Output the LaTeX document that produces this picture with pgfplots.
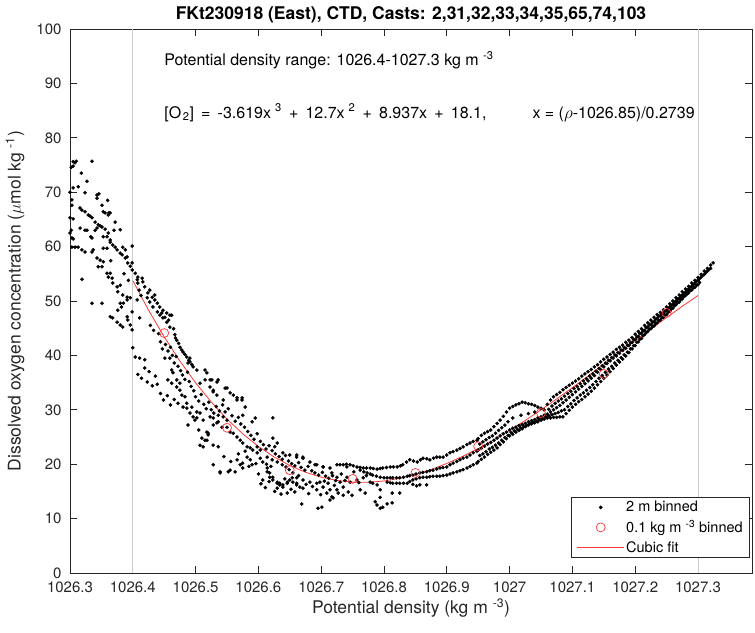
\documentclass[border=0pt]{standalone}
\usepackage{fontspec}
\setmainfont{TeX Gyre Heros}
\usepackage{pgfplots}
\pgfplotsset{compat=1.18}
\pgfplotsset{legend image code/.code={\draw[mark repeat=2,mark phase=2,#1] plot coordinates {(0pt,0pt) (24pt,0pt) (47pt,0pt)};}}
\definecolor{axgray}{RGB}{38,38,38}
\definecolor{vgray}{RGB}{205,205,205}
\definecolor{fitred}{RGB}{255,55,55}
% x values are potential density minus 1000 (sigma-theta), labels show full density
\begin{document}
\begin{tikzpicture}
\begin{axis}[
  name=ax,
  scale only axis,
  width=682pt, height=544pt,
  xmin=26.3, xmax=27.386, ymin=0, ymax=100,
  clip=false,
  axis line style={axgray, line width=0.8pt},
  every tick/.style={axgray, line width=0.8pt},
  tick align=inside,
  major tick length=7pt,
  xtick={26.3,26.4,26.5,26.6,26.7,26.8,26.9,27.0,27.1,27.2,27.3},
  xticklabels={1026.3,1026.4,1026.5,1026.6,1026.7,1026.8,1026.9,1027,1027.1,1027.2,1027.3},
  ytick={0,10,...,100},
  tick label style={font=\fontsize{15}{18}\selectfont, text=axgray},
  xticklabel style={yshift=-5pt},
  yticklabel style={xshift=-5pt},
  /pgf/number format/assume math mode=true,
  xlabel={Potential density (kg m \textsuperscript{-3})},
  ylabel={Dissolved oxygen concentration ($\mu$mol kg \textsuperscript{-1})},
  label style={font=\fontsize{17.5}{21}\selectfont, text=axgray},
  xlabel style={at={(rel axis cs:0.5,-0.0643)}, anchor=center},
  ylabel style={at={(rel axis cs:-0.0806,0.5)}, anchor=center},
  title={FKt230918 (East), CTD, Casts: 2,31,32,33,34,35,65,74,103},
  title style={at={(rel axis cs:0.5,1.016)}, anchor=center, font=\bfseries\fontsize{17.5}{21}\selectfont},
  legend style={at={(rel axis cs:1,0)}, anchor=south east, xshift=-2pt, yshift=15pt,
    draw=axgray, line width=0.6pt, fill=white, font=\fontsize{14.5}{17}\selectfont,
    inner xsep=5pt, inner ysep=2pt, row sep=3pt, cells={anchor=west}},
]
\addplot[vgray, line width=0.8pt, forget plot] coordinates {(26.4,0) (26.4,100)};
\addplot[vgray, line width=0.8pt, forget plot] coordinates {(27.3,0) (27.3,100)};

\addplot[only marks, mark=*, mark size=1.6pt, mark options={draw=none, fill=black}] table {
x y
26.305 75.6
26.308 75.4
26.310 75.7
26.305 74.8
26.302 74.6
26.335 75.7
26.318 73.5
26.305 70.8
26.313 71.0
26.303 68.6
26.303 67.6
26.324 69.9
26.343 69.5
26.346 69.7
26.343 68.9
26.351 67.6
26.353 66.4
26.362 66.2
26.356 66.2
26.319 66.7
26.324 66.4
26.329 65.8
26.335 65.3
26.340 64.5
26.345 64.0
26.351 63.6
26.356 63.2
26.359 61.8
26.364 61.2
26.368 60.3
26.375 59.4
26.383 58.5
26.388 57.9
26.392 57.0
26.399 55.7
26.316 67.1
26.332 65.6
26.348 63.8
26.361 62.5
26.372 59.9
26.380 58.8
26.396 56.4
26.300 65.3
26.305 65.1
26.303 61.6
26.305 61.4
26.303 59.9
26.308 59.9
26.313 59.9
26.302 63.0
26.316 63.4
26.324 63.0
26.327 63.0
26.319 59.4
26.324 59.0
26.335 59.0
26.337 59.4
26.333 61.8
26.335 61.6
26.340 63.0
26.343 63.4
26.353 61.8
26.353 59.7
26.359 59.7
26.364 60.8
26.380 63.1
26.372 64.5
26.364 66.2
26.361 65.8
26.384 59.9
26.388 59.4
26.391 58.1
26.399 57.0
26.399 60.1
26.343 57.9
26.348 57.5
26.345 56.3
26.351 56.3
26.353 57.2
26.359 55.1
26.364 55.1
26.361 54.4
26.367 54.2
26.368 53.3
26.375 52.6
26.376 51.7
26.384 51.1
26.391 50.7
26.396 50.6
26.380 52.9
26.319 54.0
26.335 49.6
26.351 49.6
26.364 47.1
26.368 46.9
26.375 46.1
26.380 45.6
26.384 45.2
26.391 47.1
26.392 46.5
26.396 45.6
26.380 49.6
26.385 49.6
26.391 50.2
26.382 48.9
26.376 48.3
26.300 70.0
26.300 62.5
26.327 72.0
26.360 68.5
26.370 63.0
26.386 55.0
26.393 53.8
26.365 57.4
26.404 55.1
26.408 54.4
26.407 53.9
26.408 53.3
26.415 54.2
26.416 53.5
26.419 52.6
26.424 51.5
26.431 50.7
26.435 50.2
26.439 49.6
26.443 48.9
26.448 48.3
26.454 47.8
26.459 47.4
26.435 51.1
26.423 50.6
26.427 49.8
26.432 48.9
26.439 48.0
26.443 47.4
26.448 46.9
26.454 46.1
26.459 45.2
26.462 47.4
26.467 43.8
26.470 42.8
26.475 41.5
26.480 40.6
26.486 39.7
26.491 38.8
26.496 37.9
26.502 37.3
26.446 47.8
26.451 47.0
26.457 46.5
26.465 44.9
26.468 43.2
26.473 42.2
26.478 41.0
26.483 40.2
26.489 39.1
26.494 38.3
26.399 48.0
26.399 44.7
26.400 41.4
26.404 39.7
26.411 39.5
26.419 39.2
26.419 37.7
26.423 35.1
26.431 34.4
26.439 34.7
26.451 39.5
26.459 39.5
26.462 37.3
26.464 36.8
26.470 35.5
26.475 34.9
26.456 35.5
26.462 34.9
26.470 34.2
26.475 33.6
26.478 32.7
26.483 32.4
26.486 31.2
26.472 31.2
26.480 30.5
26.486 30.3
26.494 30.5
26.496 28.7
26.499 28.1
26.502 28.5
26.407 50.2
26.411 46.9
26.410 52.0
26.413 51.0
26.427 52.0
26.428 45.5
26.433 44.6
26.441 44.0
26.444 42.5
26.447 41.2
26.452 42.0
26.456 40.8
26.460 41.5
26.463 40.0
26.466 38.6
26.469 39.8
26.472 38.0
26.476 37.2
26.479 36.4
26.483 35.6
26.487 36.9
26.490 35.2
26.493 34.3
26.497 33.5
26.500 32.4
26.505 31.6
26.509 32.8
26.513 31.0
26.517 30.2
26.521 31.4
26.525 30.0
26.529 29.4
26.533 30.6
26.538 29.8
26.543 30.9
26.547 29.6
26.552 30.2
26.558 28.9
26.563 27.9
26.568 28.6
26.572 27.4
26.578 26.8
26.583 26.0
26.588 25.3
26.593 24.6
26.598 25.6
26.603 24.2
26.608 23.6
26.612 22.8
26.617 23.4
26.622 22.5
26.627 21.9
26.633 21.4
26.638 20.9
26.643 21.6
26.648 20.6
26.653 20.1
26.658 19.7
26.664 20.3
26.668 19.4
26.674 18.9
26.679 19.6
26.685 18.8
26.690 18.4
26.696 18.0
26.702 18.5
26.707 17.8
26.712 17.4
26.718 17.9
26.723 17.0
26.408 36.5
26.414 35.8
26.426 37.0
26.436 36.2
26.444 33.0
26.449 31.8
26.455 32.6
26.460 30.9
26.466 31.9
26.491 29.4
26.488 27.2
26.505 26.3
26.510 24.8
26.515 35.5
26.523 34.2
26.528 33.6
26.534 32.7
26.536 35.5
26.526 35.5
26.550 34.0
26.555 33.1
26.560 32.7
26.566 32.2
26.574 32.2
26.579 30.5
26.502 29.6
26.507 29.4
26.512 28.1
26.518 25.9
26.520 25.4
26.518 24.4
26.512 23.2
26.507 23.5
26.528 19.9
26.539 18.4
26.552 18.6
26.534 27.6
26.542 26.8
26.550 26.8
26.555 25.9
26.560 25.7
26.566 25.0
26.571 24.4
26.575 23.9
26.582 23.2
26.587 23.0
26.591 22.6
26.598 22.1
26.603 21.1
26.523 28.7
26.528 28.5
26.536 29.0
26.544 28.7
26.550 28.1
26.488 38.6
26.491 39.5
26.515 37.3
26.518 36.8
26.566 20.8
26.571 19.9
26.575 20.2
26.582 21.3
26.587 20.8
26.590 19.9
26.575 19.3
26.563 18.6
26.556 20.5
26.568 21.9
26.579 22.4
26.585 19.6
26.596 20.1
26.545 21.4
26.614 18.6
26.618 17.6
26.623 17.1
26.630 16.5
26.634 16.2
26.639 15.8
26.646 16.5
26.650 17.1
26.655 16.7
26.607 17.1
26.630 15.6
26.646 14.7
26.600 18.2
26.604 16.4
26.611 15.7
26.617 16.8
26.626 15.0
26.636 14.5
26.642 17.3
26.652 15.4
26.658 14.9
26.664 17.9
26.676 16.3
26.680 14.6
26.686 15.9
26.699 14.4
26.705 16.9
26.721 16.1
26.732 18.2
26.738 17.0
26.752 18.6
26.760 16.6
26.772 17.9
26.623 28.5
26.623 24.8
26.630 23.9
26.626 23.2
26.650 21.7
26.661 21.7
26.671 21.3
26.682 20.4
26.693 19.9
26.703 19.5
26.655 18.4
26.661 17.5
26.671 17.1
26.682 16.7
26.693 16.5
26.703 15.8
26.714 15.3
26.725 15.3
26.735 15.8
26.661 16.2
26.671 15.6
26.693 15.3
26.709 14.7
26.719 13.8
26.735 14.3
26.669 12.7
26.695 11.9
26.701 12.1
26.714 13.4
26.507 34.9
26.523 35.5
26.534 35.1
26.528 33.3
26.547 34.0
26.566 31.8
26.574 31.8
26.575 29.0
26.544 31.8
26.528 27.2
26.536 27.8
26.520 25.7
26.528 23.5
26.536 23.2
26.515 24.4
26.539 18.6
26.555 18.9
26.590 27.8
26.595 28.5
26.598 23.2
26.603 22.6
26.614 21.3
26.622 20.8
26.630 20.4
26.638 19.9
26.639 22.1
26.661 21.3
26.671 21.1
26.690 19.9
26.614 19.3
26.618 18.4
26.623 17.6
26.630 16.7
26.634 16.5
26.639 16.2
26.646 16.7
26.654 17.5
26.661 16.5
26.666 15.8
26.607 20.4
26.613 20.0
26.620 19.6
26.644 19.5
26.649 19.0
26.725 19.9
26.730 19.9
26.735 19.9
26.740 20.0
26.746 19.9
26.751 19.7
26.757 19.5
26.762 19.4
26.767 19.3
26.772 19.3
26.778 19.3
26.783 19.2
26.789 19.1
26.794 19.2
26.798 19.3
26.804 19.4
26.810 19.5
26.815 19.5
26.821 19.5
26.826 19.7
26.830 19.9
26.836 20.4
26.841 20.8
26.847 20.6
26.853 20.4
26.858 20.8
26.862 21.1
26.868 21.0
26.873 20.8
26.879 21.1
26.884 21.3
26.889 21.3
26.894 21.3
26.900 21.7
26.905 22.1
26.910 22.3
26.916 22.6
26.921 22.9
26.926 23.2
26.932 23.6
26.937 23.9
26.942 24.2
26.948 24.4
26.762 18.9
26.768 18.6
26.773 18.4
26.778 18.2
26.782 18.0
26.788 17.8
26.794 17.6
26.800 17.5
26.805 17.5
26.810 17.5
26.814 17.5
26.820 17.5
26.825 17.5
26.831 17.6
26.837 17.8
26.841 17.9
26.846 18.0
26.851 18.2
26.857 18.4
26.862 18.5
26.868 18.6
26.873 18.8
26.878 18.9
26.884 19.1
26.889 19.3
26.894 19.4
26.900 19.5
26.905 19.9
26.910 20.2
26.916 20.5
26.921 20.8
26.926 21.1
26.932 21.3
26.937 21.7
26.942 22.1
26.948 22.4
26.805 16.7
26.810 16.6
26.814 16.5
26.820 16.5
26.825 16.5
26.831 16.5
26.837 16.5
26.841 16.8
26.846 17.1
26.851 17.3
26.857 17.5
26.862 17.6
26.868 17.6
26.873 17.7
26.878 17.8
26.884 17.8
26.889 17.8
26.894 17.9
26.900 18.0
26.905 18.2
26.910 18.4
26.916 18.6
26.921 18.8
26.926 19.0
26.932 19.3
26.937 19.6
26.942 19.9
26.948 20.2
26.846 16.3
26.857 16.2
26.868 16.2
26.852 16.0
26.741 17.6
26.746 16.7
26.757 17.1
26.767 17.5
26.778 16.7
26.782 16.5
26.789 16.2
26.717 14.0
26.727 14.7
26.743 14.9
26.762 15.3
26.770 14.7
26.794 13.9
26.813 14.7
26.825 14.7
26.794 15.3
26.749 14.3
26.786 13.1
26.789 12.5
26.794 11.9
26.798 12.1
26.805 12.7
26.813 12.9
26.703 19.5
26.714 19.3
26.717 18.4
26.725 17.6
26.730 16.7
26.711 16.5
26.698 16.7
26.741 19.5
26.950 24.7
26.955 25.3
26.960 25.7
26.965 26.0
26.970 26.3
26.975 26.9
26.980 27.5
26.985 28.1
26.990 28.8
26.995 29.6
27.000 30.3
27.005 30.6
27.010 30.9
27.015 31.1
27.020 31.4
27.025 31.3
27.030 31.1
27.035 31.0
27.040 30.8
27.045 30.5
27.050 30.3
27.055 30.0
27.060 31.0
27.065 31.8
27.070 32.4
27.075 32.8
27.080 33.2
27.085 33.7
27.090 34.1
27.095 34.5
27.100 34.9
27.105 35.3
27.110 35.7
27.115 36.2
27.120 36.6
27.125 37.0
27.130 37.4
27.135 37.9
27.140 38.3
27.145 38.8
27.150 39.3
27.155 39.7
27.160 40.2
27.165 40.6
27.170 41.1
27.175 41.5
27.180 41.9
27.185 42.4
27.190 42.8
27.195 43.3
27.200 43.9
27.205 44.4
27.210 44.9
27.215 45.5
27.220 46.0
27.225 46.5
27.230 47.0
27.235 47.5
27.240 47.9
27.245 48.4
27.250 48.9
27.255 49.5
27.260 50.0
27.265 50.6
27.270 51.1
27.275 51.7
27.280 52.2
27.285 52.7
27.290 53.3
27.295 53.8
27.300 54.3
27.305 54.9
27.310 55.5
27.315 56.0
27.320 56.6
27.324 57.0
26.950 22.6
26.955 22.9
26.960 23.3
26.965 23.7
26.970 24.0
26.975 24.4
26.980 24.8
26.985 25.2
26.990 25.6
26.995 25.9
27.000 26.3
27.005 26.6
27.010 26.8
27.015 27.1
27.020 27.3
27.025 27.5
27.030 27.8
27.035 28.0
27.040 28.2
27.045 28.5
27.050 28.7
27.055 29.0
27.060 29.2
27.065 29.6
27.070 30.0
27.075 30.4
27.080 30.8
27.085 31.3
27.090 31.8
27.095 32.3
27.100 32.8
27.105 33.3
27.110 33.8
27.115 34.3
27.120 34.8
27.125 35.3
27.130 35.8
27.135 36.3
27.140 36.9
27.145 37.4
27.150 37.9
27.155 38.5
27.160 39.0
27.165 39.5
27.170 39.9
27.175 40.4
27.180 40.9
27.185 41.3
27.190 41.8
27.195 42.4
27.200 42.9
27.205 43.5
27.210 44.1
27.215 44.6
27.220 45.2
27.225 45.7
27.230 46.2
27.235 46.8
27.240 47.3
27.245 47.8
27.250 48.3
27.255 48.9
27.260 49.4
27.265 50.0
27.270 50.5
27.275 51.1
27.280 51.6
27.285 52.2
27.290 52.7
27.295 53.3
27.300 53.8
27.305 54.4
27.310 54.9
27.315 55.5
27.320 56.0
26.950 20.5
26.955 20.9
26.960 21.3
26.965 21.8
26.970 22.2
26.975 22.6
26.980 23.0
26.985 23.6
26.990 24.1
26.995 24.7
27.000 25.2
27.005 25.5
27.010 25.9
27.015 26.2
27.020 26.5
27.025 26.9
27.030 27.2
27.035 27.4
27.040 27.6
27.045 27.8
27.050 28.1
27.055 28.3
27.060 28.5
27.065 28.5
27.070 28.6
27.075 28.6
27.080 28.7
27.085 28.7
27.090 29.3
27.095 29.9
27.100 30.5
27.105 31.0
27.110 31.5
27.115 31.9
27.120 32.4
27.125 32.9
27.130 33.4
27.135 34.0
27.140 34.6
27.145 35.2
27.150 35.8
27.155 36.4
27.160 37.0
27.165 37.6
27.170 38.2
27.175 38.8
27.180 39.3
27.185 39.9
27.190 40.5
27.195 41.2
27.200 41.8
27.205 42.5
27.210 43.1
27.215 43.8
27.220 44.4
27.225 44.9
27.230 45.4
27.235 46.0
27.240 46.5
27.245 47.0
27.250 47.5
27.255 48.1
27.260 48.7
27.265 49.3
27.270 49.8
27.275 50.4
27.280 51.0
27.285 51.5
27.290 52.0
27.295 52.5
27.300 53.0
26.9525 23.7
26.9575 24.1
26.9625 24.5
26.9675 24.9
26.9725 25.2
26.9775 25.7
26.9825 26.2
26.9875 26.7
26.9925 27.2
26.9975 27.8
27.0625 30.1
27.0675 30.7
27.0725 31.2
27.0775 31.6
27.0825 32.0
27.0875 32.5
27.0925 33.0
27.0975 33.4
27.1025 33.9
27.1075 34.3
27.1125 34.8
27.1175 35.3
27.1225 35.7
27.1275 36.2
27.1325 36.6
27.1375 37.1
27.1425 37.6
27.1475 38.1
27.1525 38.6
27.1575 39.1
27.1625 39.6
27.1675 40.1
27.1725 40.5
27.1775 41.0
27.1825 41.4
27.1875 41.9
27.1925 42.3
27.1975 42.9
27.2025 43.4
27.2075 44.0
27.2125 44.5
27.2175 45.1
27.2225 45.6
27.2275 46.1
27.2325 46.6
27.2375 47.2
27.2425 47.6
27.2475 48.1
27.2525 48.6
27.2575 49.2
27.2625 49.7
27.2675 50.3
27.2725 50.8
27.2775 51.4
27.2825 51.9
27.2875 52.5
27.2925 53.0
27.2975 53.6
27.3025 54.1
27.3075 54.7
27.3125 55.2
27.3175 55.8
26.9525 21.6
26.9575 21.9
26.9625 22.3
26.9675 22.8
26.9725 23.1
26.9775 23.5
26.9825 23.9
26.9875 24.4
26.9925 24.9
26.9975 25.3
27.0025 25.8
27.0075 26.1
27.0125 26.4
27.0175 26.7
27.0225 26.9
27.0275 27.2
27.0325 27.5
27.0375 27.7
27.0425 27.9
27.0475 28.2
27.0525 28.4
27.0575 28.7
27.0625 28.9
27.0675 29.1
27.0725 29.3
27.0775 29.5
27.0825 29.8
27.0875 30.0
27.0925 30.6
27.0975 31.1
27.1025 31.7
27.1075 32.2
27.1125 32.7
27.1175 33.1
27.1225 33.6
27.1275 34.1
27.1325 34.6
27.1375 35.2
27.1425 35.8
27.1475 36.3
27.1525 36.9
27.1575 37.5
27.1625 38.0
27.1675 38.6
27.1725 39.1
27.1775 39.6
27.1825 40.1
27.1875 40.6
27.1925 41.2
27.1975 41.8
27.2025 42.4
27.2075 43.0
27.2125 43.6
27.2175 44.2
27.2225 44.8
27.2275 45.3
27.2325 45.8
27.2375 46.4
27.2425 46.9
27.2475 47.4
27.2525 47.9
27.2575 48.5
27.2625 49.1
27.2675 49.7
27.2725 50.2
27.2775 50.8
27.2825 51.3
27.2875 51.9
27.2925 52.4
27.2975 52.9
27.3025 53.4
27.005 28.5
27.018 29.0
27.030 29.3
27.040 29.6
};
\addlegendentry{2 m binned}

\addplot[only marks, mark=o, mark size=4.5pt, mark options={draw=fitred, line width=0.7pt}] coordinates {
(26.45,44.1) (26.55,26.7) (26.65,18.9) (26.75,17.3) (26.85,18.4)
(26.95,23.3) (27.05,29.4) (27.15,36.6) (27.25,47.8)};
\addlegendentry{0.1 kg m \textsuperscript{-3} binned}

\addplot[color=fitred, draw=fitred, line width=0.8pt, no markers, forget plot] coordinates {
(26.400,53.744) (26.425,48.332) (26.450,43.407) (26.475,38.958) (26.500,34.968)
(26.525,31.423) (26.550,28.302) (26.575,25.592) (26.600,23.275) (26.625,21.334)
(26.650,19.755) (26.675,18.518) (26.700,17.609) (26.725,17.010) (26.750,16.706)
(26.775,16.679) (26.800,16.914) (26.825,17.393) (26.850,18.100) (26.875,19.019)
(26.900,20.132) (26.925,21.425) (26.950,22.880) (26.975,24.480) (27.000,26.209)
(27.025,28.050) (27.050,29.989) (27.075,32.006) (27.100,34.085) (27.125,36.212)
(27.150,38.370) (27.175,40.541) (27.200,42.706) (27.225,44.854) (27.250,46.967)
(27.275,49.024) (27.300,51.014)};
\addlegendimage{legend image code/.code={\draw[draw=fitred, line width=1pt] (0pt,0pt) -- (47pt,0pt);}}
\addlegendentry{Cubic fit}

\node[anchor=west, inner sep=0pt, font=\fontsize{16}{19}\selectfont] at (axis cs:26.45,94.3)
  {Potential density range: 1026.4-1027.3 kg m \textsuperscript{-3}};
\node[anchor=base west, inner sep=0pt, font=\fontsize{16}{19}\selectfont] at (axis cs:26.45,83.6)
  {\spaceskip=7.2pt [O\hspace{1.5pt}\textsubscript{2}] = -3.619x\hspace{4pt}\textsuperscript{3} + 12.7x\hspace{4pt}\textsuperscript{2} + 8.937x + 18.1,};
\node[anchor=base east, inner sep=0pt, font=\fontsize{16}{19}\selectfont] at (axis cs:27.295,83.6)
  {x = ($\rho$-1026.85)/0.2739};
\end{axis}
\pgfresetboundingbox
\path ([shift={(-70pt,-59pt)}]ax.south west) rectangle ([shift={(3pt,29pt)}]ax.north east);
\end{tikzpicture}
\end{document}
